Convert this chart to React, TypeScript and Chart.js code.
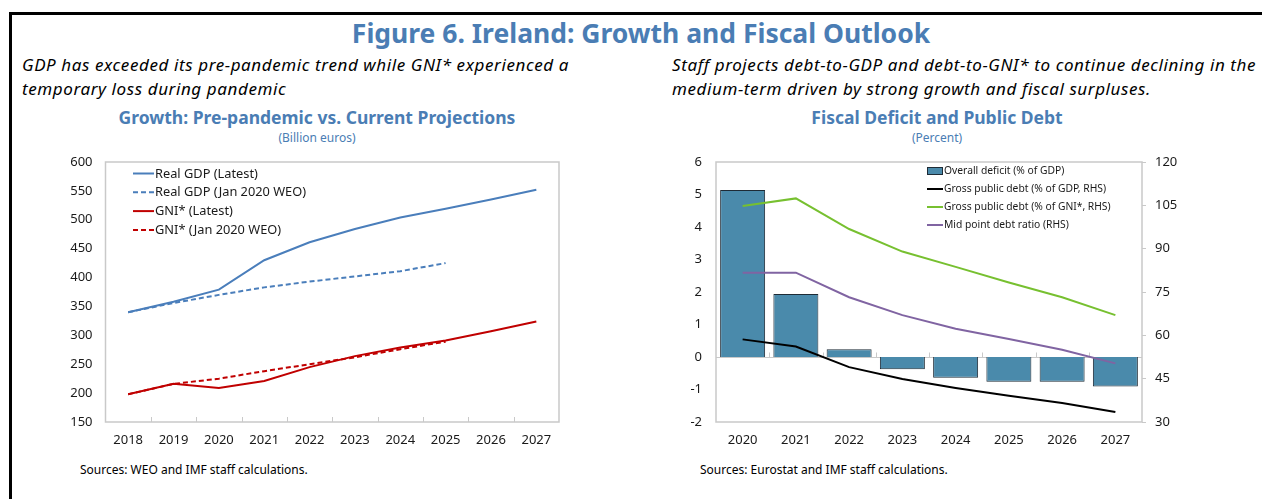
import React, { useEffect, useRef } from "react";
import { Chart, registerables } from "chart.js";

Chart.register(...registerables);

// ---------- Data ----------
const growthYears = ["2018", "2019", "2020", "2021", "2022", "2023", "2024", "2025", "2026", "2027"];
const realGdpLatest = [340, 358, 379, 430, 461, 484, 504, 519, 535, 552];
const realGdpJan2020 = [340, 356, 370, 383, 393, 402, 411, 425, null, null];
const gniLatest = [198, 216, 209, 221, 245, 264, 279, 291, 307, 324];
const gniJan2020 = [198, 216, 225, 238, 250, 262, 276, 289, null, null];

const fiscalYears = ["2020", "2021", "2022", "2023", "2024", "2025", "2026", "2027"];
const overallDeficit = [5.14, 1.94, 0.24, -0.38, -0.64, -0.76, -0.76, -0.91];
const debtGdp = [58.6, 56.1, 49.0, 44.9, 41.8, 39.1, 36.6, 33.5];
const debtGni = [104.8, 107.4, 96.8, 89.0, 83.7, 78.3, 73.2, 67.0];
const midPointDebt = [81.7, 81.7, 73.2, 67.0, 62.3, 58.7, 55.0, 50.3];

const FONT = "'Noto Sans', 'Open Sans', sans-serif";
const BLUE_TITLE = "#4A7DB4";
const TICK_COLOR = "#1a1a1a";
const FRAME_GRAY = "#C9C9C9";

// zero out automatic label overflow padding so the plot area is exactly where we want it
const noPad = (s: any) => {
  s.paddingTop = 0;
  s.paddingBottom = 0;
  s.paddingLeft = 0;
  s.paddingRight = 0;
};

// ---------- Plugin: plot frame, inner ticks, zero line, in-plot legend ----------
const framePlugin = {
  id: "frame",
  beforeDatasetsDraw(chart: any, _args: any, opts: any) {
    const { ctx, chartArea } = chart;
    const n = chart.data.labels.length;
    const bw = (chartArea.right - chartArea.left) / n;
    ctx.save();
    ctx.strokeStyle = FRAME_GRAY;
    ctx.lineWidth = 1;
    if (opts.zeroLine) {
      const y0 = Math.round(chart.scales.y.getPixelForValue(0)) + 0.5;
      ctx.beginPath();
      ctx.moveTo(chartArea.left, y0);
      ctx.lineTo(chartArea.right, y0);
      for (let i = 1; i < n; i++) {
        const x = Math.round(chartArea.left + i * bw) + 0.5;
        ctx.moveTo(x, y0);
        ctx.lineTo(x, y0 - 5);
      }
      ctx.stroke();
    }
    if (opts.bottomTicks) {
      ctx.beginPath();
      const yb = chartArea.bottom;
      for (let i = 1; i < n; i++) {
        const x = Math.round(chartArea.left + i * bw) + 0.5;
        ctx.moveTo(x, yb);
        ctx.lineTo(x, yb - 5);
      }
      ctx.stroke();
    }
    ctx.restore();
  },
  afterDraw(chart: any, _args: any, opts: any) {
    const { ctx, chartArea } = chart;
    ctx.save();
    ctx.strokeStyle = FRAME_GRAY;
    ctx.lineWidth = 1.5;
    ctx.strokeRect(chartArea.left, chartArea.top, chartArea.right - chartArea.left, chartArea.bottom - chartArea.top);
    const lg = opts.legend;
    if (lg) {
      ctx.font = `${lg.fontSize}px ${FONT}`;
      ctx.textBaseline = "middle";
      ctx.textAlign = "left";
      chart.data.datasets.forEach((ds: any, i: number) => {
        const y = chartArea.top + lg.y0 + i * lg.dy;
        const x0 = chartArea.left + lg.x0;
        const x1 = x0 + lg.w;
        if (ds.type === "bar") {
          ctx.fillStyle = ds.backgroundColor;
          ctx.fillRect(x0, y - 4, lg.w, 8);
          ctx.strokeStyle = ds.borderColor;
          ctx.lineWidth = 1;
          ctx.strokeRect(x0 + 0.5, y - 3.5, lg.w - 1, 7);
        } else {
          ctx.strokeStyle = ds.borderColor;
          ctx.lineWidth = 2;
          ctx.setLineDash(ds.borderDash || []);
          ctx.beginPath();
          ctx.moveTo(x0, y);
          ctx.lineTo(x1, y);
          ctx.stroke();
          ctx.setLineDash([]);
        }
        ctx.fillStyle = TICK_COLOR;
        ctx.fillText(ds.label, x1 + 1, y + 0.5);
      });
    }
    ctx.restore();
  },
};

function GrowthChart() {
  const ref = useRef<HTMLCanvasElement | null>(null);
  useEffect(() => {
    if (!ref.current) return;
    const chart = new Chart(ref.current, {
      type: "line",
      data: {
        labels: growthYears,
        datasets: [
          { type: "line", label: "Real GDP (Latest)", data: realGdpLatest, borderColor: "#4A7EBB", borderWidth: 2, pointRadius: 0, tension: 0 },
          { type: "line", label: "Real GDP (Jan 2020 WEO)", data: realGdpJan2020, borderColor: "#4A7EBB", borderDash: [5, 3], borderWidth: 2, pointRadius: 0, tension: 0 },
          { type: "line", label: "GNI* (Latest)", data: gniLatest, borderColor: "#C00000", borderWidth: 2, pointRadius: 0, tension: 0 },
          { type: "line", label: "GNI* (Jan 2020 WEO)", data: gniJan2020, borderColor: "#C00000", borderDash: [5, 3], borderWidth: 2, pointRadius: 0, tension: 0 },
        ],
      } as any,
      options: {
        animation: false,
        responsive: false,
        maintainAspectRatio: false,
        layout: { padding: { top: 17, right: 11, left: 0, bottom: 0 } },
        plugins: {
          legend: { display: false },
          tooltip: { enabled: false },
          frame: { bottomTicks: true, legend: { x0: 27.5, w: 21, y0: 11.5, dy: 18.8, fontSize: 12.8 } },
        } as any,
        scales: {
          x: {
            type: "category",
            offset: true,
            grid: { display: false, drawTicks: false },
            border: { display: false },
            ticks: { color: TICK_COLOR, font: { family: FONT, size: 13 }, padding: 10, maxRotation: 0, autoSkip: false },
            afterFit: (s: any) => { s.height = 33; noPad(s); },
          },
          y: {
            min: 150,
            max: 600,
            grid: { display: false, drawTicks: false },
            border: { display: false },
            ticks: { stepSize: 50, color: TICK_COLOR, font: { family: FONT, size: 13 }, padding: 13 },
            afterFit: (s: any) => { s.width = 45.5; noPad(s); },
          },
        },
      } as any,
      plugins: [framePlugin as any],
    });
    return () => chart.destroy();
  }, []);
  return <canvas ref={ref} width={510} height={310} style={{ position: "absolute", left: 60, top: 145, width: 510, height: 310 }} />;
}

function FiscalChart() {
  const ref = useRef<HTMLCanvasElement | null>(null);
  useEffect(() => {
    if (!ref.current) return;
    const chart = new Chart(ref.current, {
      type: "bar",
      data: {
        labels: fiscalYears,
        datasets: [
          { type: "bar", label: "Overall deficit (% of GDP)", data: overallDeficit, backgroundColor: "#4A8AAB", borderColor: "#1E2B36", borderWidth: 1, barPercentage: 0.845, categoryPercentage: 1, yAxisID: "y", order: 10 },
          { type: "line", label: "Gross public debt (% of GDP, RHS)", data: debtGdp, borderColor: "#000000", borderWidth: 2, pointRadius: 0, tension: 0, yAxisID: "y1", order: 1 },
          { type: "line", label: "Gross public debt (% of GNI*, RHS)", data: debtGni, borderColor: "#77C030", borderWidth: 2, pointRadius: 0, tension: 0, yAxisID: "y1", order: 1 },
          { type: "line", label: "Mid point debt ratio (RHS)", data: midPointDebt, borderColor: "#8064A2", borderWidth: 2, pointRadius: 0, tension: 0, yAxisID: "y1", order: 1 },
        ],
      } as any,
      options: {
        animation: false,
        responsive: false,
        maintainAspectRatio: false,
        layout: { padding: { top: 17, right: 0, left: 0, bottom: 0 } },
        plugins: {
          legend: { display: false },
          tooltip: { enabled: false },
          frame: { zeroLine: true, legend: { x0: 211, w: 16, y0: 9, dy: 18, fontSize: 10.3 } },
        } as any,
        scales: {
          x: {
            type: "category",
            offset: true,
            grid: { display: false, drawTicks: false },
            border: { display: false },
            ticks: { color: TICK_COLOR, font: { family: FONT, size: 13 }, padding: 10, maxRotation: 0, autoSkip: false },
            afterFit: (s: any) => { s.height = 33; noPad(s); },
          },
          y: {
            position: "left",
            min: -2,
            max: 6,
            grid: { display: false, drawTicks: false },
            border: { display: false },
            ticks: { stepSize: 1, color: TICK_COLOR, font: { family: FONT, size: 13 }, padding: 14 },
            afterFit: (s: any) => { s.width = 36; noPad(s); },
          },
          y1: {
            position: "right",
            min: 30,
            max: 120,
            grid: { display: true, drawOnChartArea: false, drawTicks: true, tickLength: 4, color: FRAME_GRAY },
            border: { display: false },
            ticks: { stepSize: 15, color: TICK_COLOR, font: { family: FONT, size: 13 }, padding: 9 },
            afterFit: (s: any) => { s.width = 48; noPad(s); },
          },
        },
      } as any,
      plugins: [framePlugin as any],
    });
    return () => chart.destroy();
  }, []);
  return <canvas ref={ref} width={510} height={310} style={{ position: "absolute", left: 680, top: 145, width: 510, height: 310 }} />;
}

const abs = (s: React.CSSProperties): React.CSSProperties => ({ position: "absolute", whiteSpace: "nowrap", ...s });

export default function App() {
  return (
    <div style={{ position: "absolute", left: 0, top: 0, width: 1262, height: 499, overflow: "hidden", background: "#fff", fontFamily: FONT }}>
      <div style={abs({ left: 9, top: 12, width: 1300, height: 600, borderLeft: "3px solid #000", borderTop: "3px solid #000" })} />
      <div style={abs({ left: 0, width: 1282, top: 17, lineHeight: "32px", textAlign: "center", fontSize: 26.5, fontWeight: 700, color: BLUE_TITLE })}>
        Figure 6. Ireland: Growth and Fiscal Outlook
      </div>
      <div style={abs({ left: 22, top: 53, lineHeight: "24px", fontSize: 17, letterSpacing: 0.6, fontStyle: "italic", color: "#000" })}>
        GDP has exceeded its pre-pandemic trend while GNI* experienced a<br />temporary loss during pandemic
      </div>
      <div style={abs({ left: 672, top: 53, lineHeight: "24px", fontSize: 17, letterSpacing: 0.6, fontStyle: "italic", color: "#000" })}>
        Staff projects debt-to-GDP and debt-to-GNI* to continue declining in the<br />medium-term driven by strong growth and fiscal surpluses.
      </div>
      <div style={abs({ left: 117, width: 400, top: 107, lineHeight: "20px", textAlign: "center", fontSize: 17.5, fontWeight: 700, color: BLUE_TITLE })}>
        Growth: Pre-pandemic vs. Current Projections
      </div>
      <div style={abs({ left: 117, width: 400, top: 130, lineHeight: "16px", textAlign: "center", fontSize: 12, color: BLUE_TITLE })}>
        (Billion euros)
      </div>
      <div style={abs({ left: 737, width: 400, top: 107, lineHeight: "20px", textAlign: "center", fontSize: 17.5, fontWeight: 700, color: BLUE_TITLE })}>
        Fiscal Deficit and Public Debt
      </div>
      <div style={abs({ left: 737, width: 400, top: 130, lineHeight: "16px", textAlign: "center", fontSize: 12, color: BLUE_TITLE })}>
        (Percent)
      </div>
      <GrowthChart />
      <FiscalChart />
      <div style={abs({ left: 80, top: 462, lineHeight: "16px", fontSize: 12, color: "#000" })}>
        Sources: WEO and IMF staff calculations.
      </div>
      <div style={abs({ left: 700, top: 462, lineHeight: "16px", fontSize: 12, color: "#000" })}>
        Sources: Eurostat and IMF staff calculations.
      </div>
    </div>
  );
}
